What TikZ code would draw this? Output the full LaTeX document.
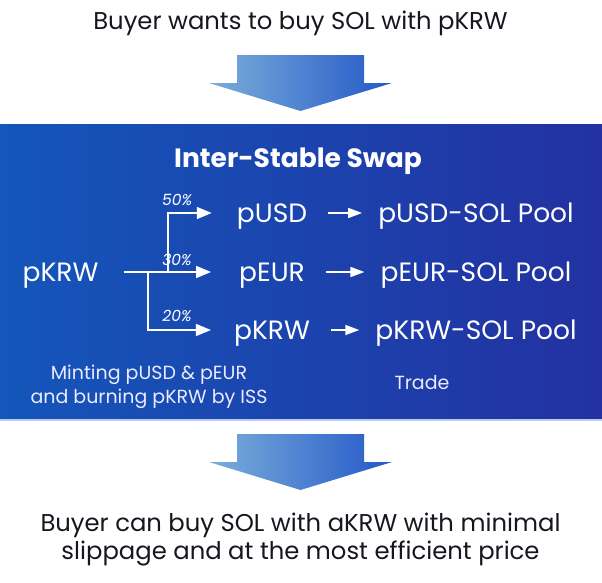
\documentclass[tikz,border=0pt]{standalone}
\usepackage{fontspec}
\setmainfont{Poppins}
\usetikzlibrary{arrows.meta}

\definecolor{bandleft}{HTML}{1456BA}
\definecolor{bandright}{HTML}{2331A1}
\definecolor{arrowlight}{HTML}{7BAED9}
\definecolor{arrowmid}{HTML}{5F8ACB}
\definecolor{arrowdark}{HTML}{2458C9}
\definecolor{bandline}{HTML}{B9CBEF}
\definecolor{ink}{HTML}{16161E}

\begin{document}
\begin{tikzpicture}[x=1pt, y=1pt,
    headline/.style={text=ink, font=\fontsize{24.3}{28}\selectfont, align=center},
    token/.style={text=white, font=\fontsize{26.5}{30}\selectfont, inner sep=0pt, anchor=base},
    share/.style={text=white, font=\fontsize{15.5}{18}\selectfont\itshape, inner sep=0pt},
    note/.style={text=white!92!blue, font=\fontsize{19}{24}\selectfont, align=center, inner sep=0pt},
    branch/.style={draw=white, line width=1.6pt, -{Triangle[length=15pt,width=12pt]}},
    link/.style={draw=white, line width=1.6pt, -{Triangle[length=14pt,width=10pt]},
        shorten <=21pt, shorten >=16pt}]
    \useasboundingbox (0,0) rectangle (602,-582);

    % Bande bleue
    \shade[left color=bandleft, right color=bandright] (0,-124) rectangle (602,-419);
    \draw[bandline, line width=1.5pt] (0,-420) -- (602,-420);

    % Fleches de haut et de bas
    \shade[left color=arrowlight, middle color=arrowmid, right color=arrowdark]
        (237,-55) -- (364,-55) -- (364,-83) -- (392,-83) -- (300.5,-111)
        -- (209,-83) -- (237,-83) -- cycle;
    \shade[left color=arrowlight, middle color=arrowmid, right color=arrowdark]
        (237,-434) -- (364,-434) -- (364,-462) -- (392,-462) -- (300.5,-490)
        -- (209,-462) -- (237,-462) -- cycle;

    % Textes
    \node[headline, inner sep=0pt, anchor=base] (buyer) at (300.5,-29) {Buyer wants to buy SOL with pKRW};
    \node[text=white, font=\fontsize{26.5}{30}\selectfont\bfseries, inner sep=0pt, anchor=base] (iss) at (298,-167) {Inter-Stable Swap};
    \node[headline, inner sep=0pt] (result) at (300.5,-540) {Buyer can buy SOL with aKRW with minimal\\slippage and at the most efficient price};

    % Jetons
    \node[token] (krw) at (60.5,-281) {pKRW};
    \node[token] (usd) at (272,-222) {pUSD};
    \node[token] (eur) at (272,-281) {pEUR};
    \node[token] (krwout) at (272,-339) {pKRW};
    \node[token] (usdpool) at (476,-222) {pUSD-SOL Pool};
    \node[token] (eurpool) at (476,-281) {pEUR-SOL Pool};
    \node[token] (krwpool) at (476,-339) {pKRW-SOL Pool};

    % Repartition
    \coordinate (upfork) at (168,-272);
    \coordinate (downfork) at (148,-272);
    \draw[branch, shorten <=25pt, shorten >=28pt] ([yshift=9pt]krw.base east) -- ([yshift=9pt]eur.base west);
    \draw[branch, shorten >=25pt] (upfork) |- ([yshift=9pt]usd.base west);
    \draw[branch, shorten >=23pt] (downfork) |- ([yshift=9pt]krwout.base west);
    \node[share] (pct50) at (177,-200) {50\%};
    \node[share] (pct30) at (177,-260) {30\%};
    \node[share] (pct20) at (177,-316) {20\%};

    % Echanges
    \draw[link] ([yshift=9pt]usd.base east) -- ([yshift=9pt]usdpool.base west);
    \draw[link] ([yshift=9pt]eur.base east) -- ([yshift=9pt]eurpool.base west);
    \draw[link] ([yshift=9pt]krwout.base east) -- ([yshift=9pt]krwpool.base west);

    % Legendes
    \node[note] (mint) at (149,-387) {Minting pUSD \& pEUR\\and burning pKRW by ISS};
    \node[note, anchor=base] (trade) at (422,-389) {Trade};
\end{tikzpicture}
\end{document}
